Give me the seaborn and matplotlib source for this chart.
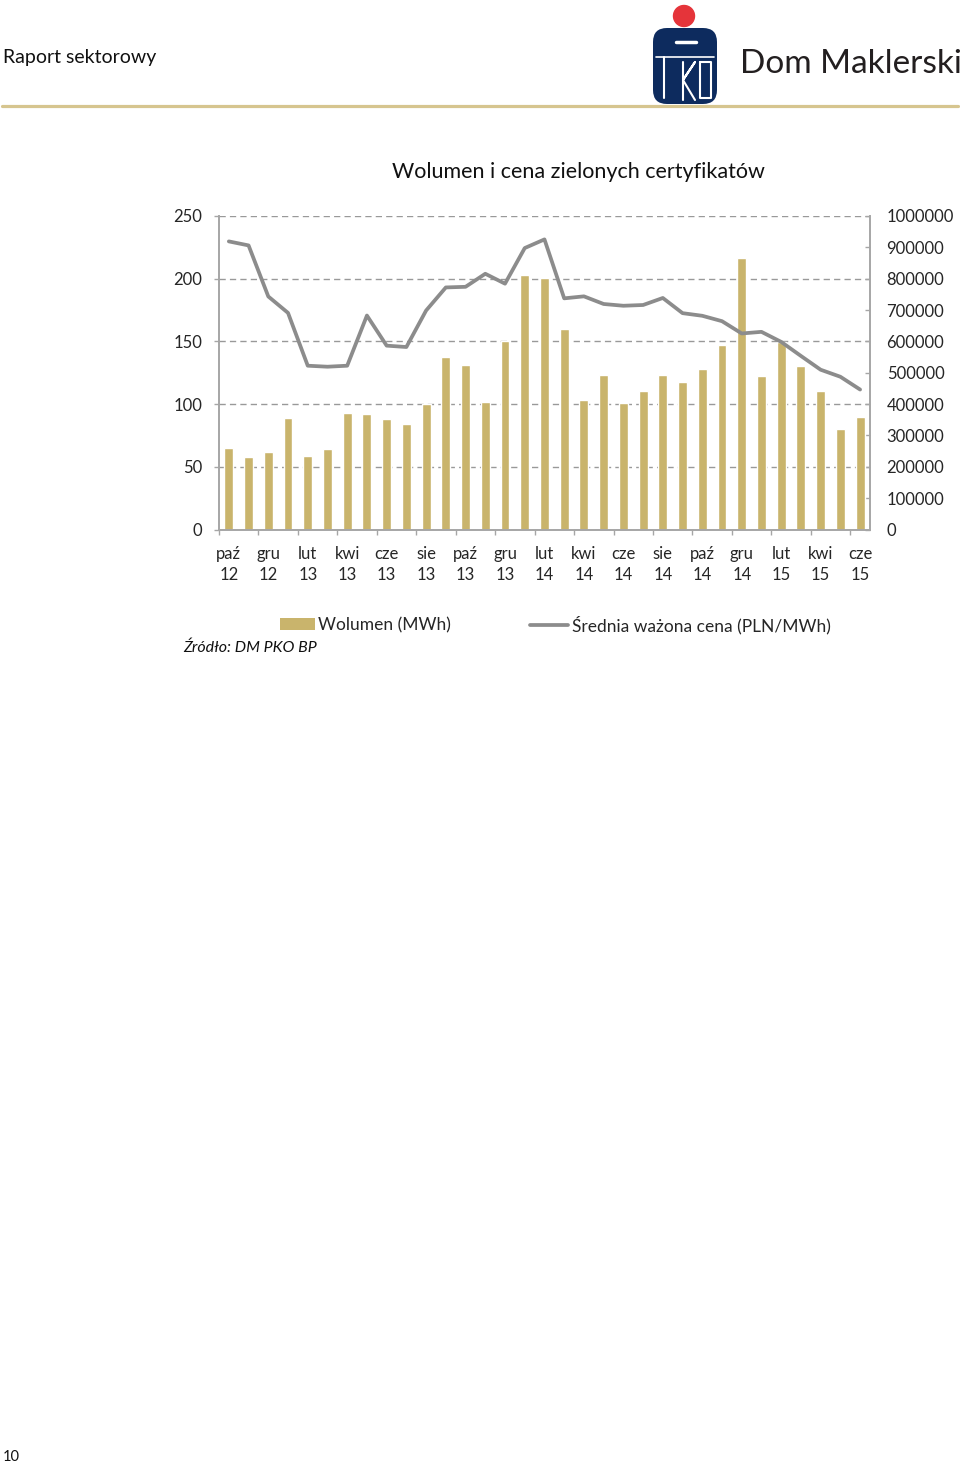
import numpy as np
import pandas as pd
import seaborn as sns
import matplotlib.pyplot as plt
from matplotlib.patches import Patch, Circle, FancyBboxPatch
from matplotlib.lines import Line2D


# miesiace od paz 2012 do cze 2015
months = ['paź 12', 'lis 12', 'gru 12',
          'sty 13', 'lut 13', 'mar 13', 'kwi 13', 'maj 13', 'cze 13',
          'lip 13', 'sie 13', 'wrz 13', 'paź 13', 'lis 13', 'gru 13',
          'sty 14', 'lut 14', 'mar 14', 'kwi 14', 'maj 14', 'cze 14',
          'lip 14', 'sie 14', 'wrz 14', 'paź 14', 'lis 14', 'gru 14',
          'sty 15', 'lut 15', 'mar 15', 'kwi 15', 'maj 15', 'cze 15']

volume_mwh = [261000, 231000, 248000, 356000, 236000, 258000, 372000,
              368000, 353000, 335000, 399000, 550000, 526000, 406000,
              600000, 812000, 802000, 639000, 413000, 492000, 403000,
              442000, 492000, 472000, 512000, 588000, 867000, 489000,
              599000, 522000, 442000, 321000, 358000]

price_pln = [229.7, 226.5, 185.8, 172.7, 130.6, 129.8, 130.6, 170.6, 146.6,
             145.5, 174.6, 193.0, 193.5, 203.9, 196.0, 224.4, 231.3, 184.3,
             185.9, 179.8, 178.4, 179.0, 184.6, 172.5, 170.4, 166.1, 156.3,
             157.6, 149.6, 138.4, 127.4, 121.8, 111.6]

vol_ticks = [0, 100000, 200000, 300000, 400000, 500000, 600000, 700000,
             800000, 900000, 1000000]
price_ticks = [0, 50, 100, 150, 200, 250]

GOLD = '#c9b46c'
GREY = '#8c8c8c'
AXGREY = '#a6a6a6'

df = pd.DataFrame({'month': months, 'volume': volume_mwh, 'price': price_pln})
df['pos'] = np.arange(len(df))

sns.set_theme(style='white')
plt.rcParams['font.family'] = ['Lato', 'DejaVu Sans']

fig = plt.figure(figsize=(9.6, 14.64), dpi=100)

ax = fig.add_axes([0.2281, 0.6383, 0.6781, 0.2142])
ax2 = ax.twinx()   # twinx przestawia ax na lewo, wiec osie ustawiam ponizej

# wolumen - slupki, os prawa
sns.barplot(data=df, x='pos', y='volume', ax=ax, color=GOLD, width=0.45,
            saturation=1, errorbar=None)
ax.set_xlim(-0.5, len(df) - 0.5)
ax.set_ylim(0, 1000000)
ax.yaxis.tick_right()
ax.yaxis.set_label_position('right')
ax.set_yticks(vol_ticks[::2])
ax.set_yticks(vol_ticks[1::2], minor=True)
ax.set_yticklabels([str(v) for v in vol_ticks[::2]])
ax.set_yticklabels([str(v) for v in vol_ticks[1::2]], minor=True)
ax.tick_params(axis='y', which='both', direction='in', length=3.6,
               width=1, color=AXGREY, pad=12, labelsize=12,
               right=True, left=False, labelright=True, labelleft=False)
ax.yaxis.grid(True, which='major', color='#999999', linewidth=1,
              linestyle=(0, (4.5, 3)))
ax.set_axisbelow(True)

# etykiety co dwa miesiace, kreski pomiedzy
ax.set_xticks(np.arange(-0.5, len(df) - 1, 2))
ax.set_xticklabels([])
ax.set_xticks(df.pos[::2], minor=True)
ax.set_xticklabels([m.replace(' ', '\n') for m in months[::2]], minor=True,
                   linespacing=1.4)
ax.tick_params(axis='x', which='major', direction='out', length=3.6,
               width=1, color=AXGREY, bottom=True)
ax.tick_params(axis='x', which='minor', length=0, pad=12, labelsize=12)
ax.set_xlabel('')
ax.set_ylabel('')

for s in ['top', 'left']:
    ax.spines[s].set_visible(False)
for s in ['right', 'bottom']:
    ax.spines[s].set_color(AXGREY)
    ax.spines[s].set_linewidth(1.4)

# cena - linia, os lewa
sns.lineplot(data=df, x='pos', y='price', ax=ax2, color=GREY, linewidth=2.7,
             legend=False)
ax2.set_ylim(0, 250)
ax2.set_xlim(-0.5, len(df) - 0.5)
ax2.yaxis.tick_left()
ax2.yaxis.set_label_position('left')
ax2.set_yticks(price_ticks)
ax2.tick_params(axis='y', direction='out', length=3.6, width=1,
                color=AXGREY, pad=8.5, labelsize=12, left=True, right=False,
                labelleft=True, labelright=False)
ax2.set_xlabel('')
ax2.set_ylabel('')
for s in ['top', 'right', 'bottom']:
    ax2.spines[s].set_visible(False)
ax2.spines['left'].set_color(AXGREY)
ax2.spines['left'].set_linewidth(1.4)

fig.text(578 / 960, 1 - 172 / 1464, 'Wolumen i cena zielonych certyfikatów',
         ha='center', va='center', fontsize=15.5, color='#111111')

# legenda
fig.legend(handles=[Patch(facecolor=GOLD, edgecolor='none',
                          label='Wolumen (MWh)')],
           loc='center left', bbox_to_anchor=(280 / 960, 1 - 625 / 1464),
           frameon=False, borderpad=0, borderaxespad=0, handletextpad=0.2,
           handlelength=2.0, fontsize=12.5)
fig.legend(handles=[Line2D([], [], color=GREY, linewidth=2.7,
                           label='Średnia ważona cena (PLN/MWh)')],
           loc='center left', bbox_to_anchor=(530 / 960, 1 - 625 / 1464),
           frameon=False, borderpad=0, borderaxespad=0, handletextpad=0.2,
           handlelength=2.2, fontsize=12.5)

fig.text(183 / 960, 1 - 648 / 1464, 'Źródło: DM PKO BP', ha='left',
         va='center', fontsize=11.5, style='italic', color='#111111')

# naglowek strony
fig.text(3 / 960, 1 - 57 / 1464, 'Raport sektorowy', ha='left', va='center',
         fontsize=14, color='#111111')
fig.text(740 / 960, 1 - 64 / 1464, 'Dom Maklerski', ha='left', va='center',
         fontsize=24, color='#231f20')
fig.text(3 / 960, 1 - 1457 / 1464, '10', ha='left', va='center',
         fontsize=10.5, color='#111111')

deco = fig.add_axes([0, 0, 1, 1], zorder=-1)
deco.set_xlim(0, 960)
deco.set_ylim(1464, 0)
deco.axis('off')
deco.plot([2, 958], [106, 106], color='#d6c58f', linewidth=2.3)
deco.add_patch(Circle((684, 16), 10.5, color='#e5343a'))
deco.add_patch(FancyBboxPatch((655, 30), 60, 72,
                              boxstyle='round,pad=2,rounding_size=14',
                              facecolor='#0d2b5e', edgecolor='none'))
deco.plot([676, 696], [42, 42], color='white', linewidth=2.5,
          solid_capstyle='round')
deco.plot([656, 714], [57, 57], color='white', linewidth=1.2)
deco.plot([664, 664], [57, 98], color='white', linewidth=1.5)
deco.plot([683, 683], [62, 100], color='white', linewidth=1.5)
deco.plot([683, 695, 683, 695], [80, 62, 80, 100], color='white',
          linewidth=1.5)
deco.plot([700, 700, 711, 711, 700], [62, 98, 98, 62, 62], color='white',
          linewidth=1.5)

fig.savefig('out.png', dpi=100, facecolor='white')
